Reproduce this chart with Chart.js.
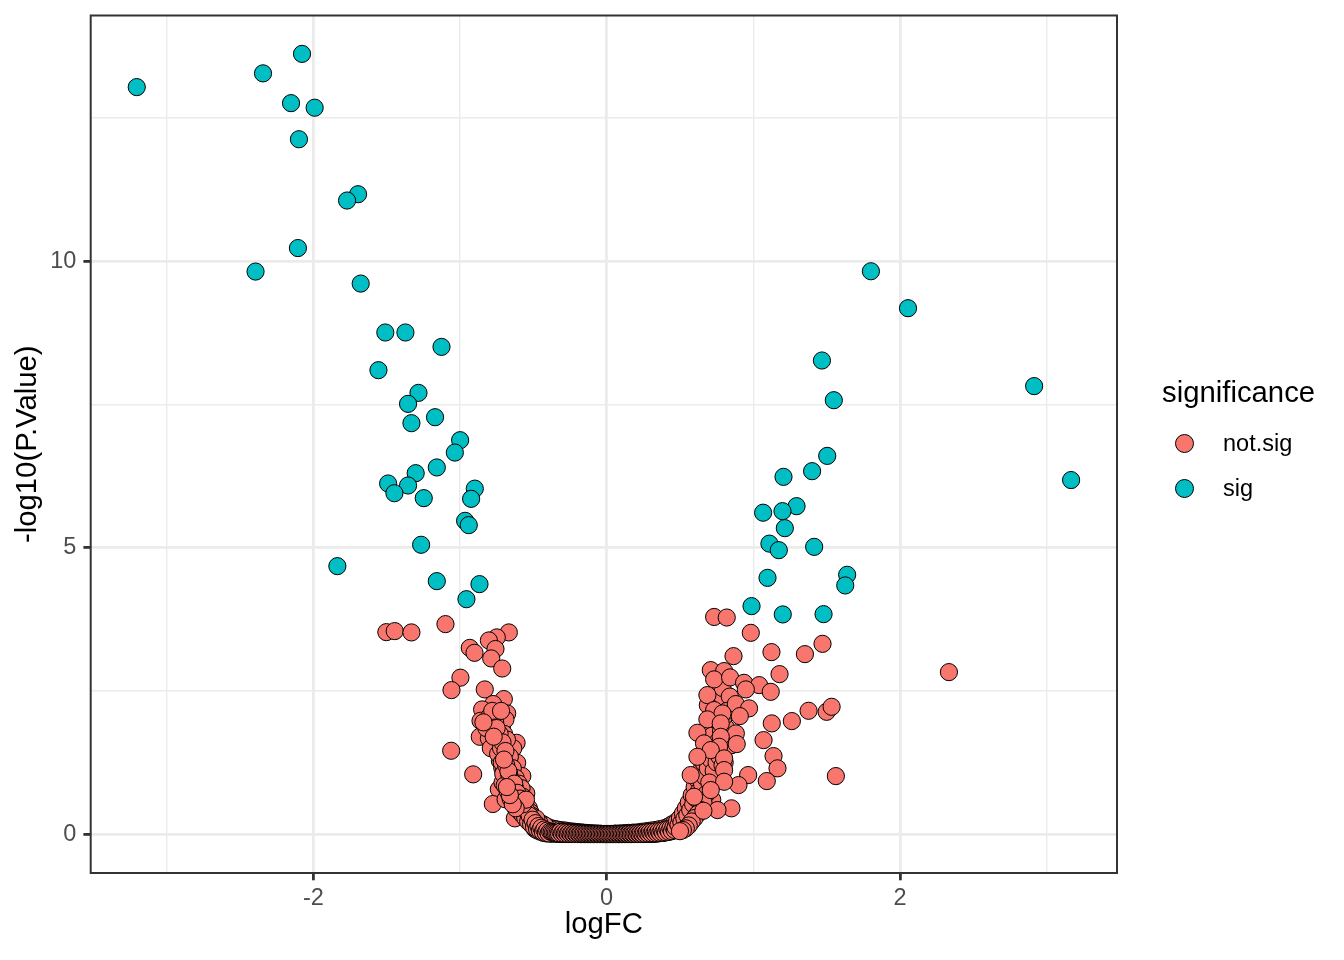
<!DOCTYPE html>
<html><head><meta charset="utf-8">
<script src="https://cdn.jsdelivr.net/npm/chart.js@4.4.0/dist/chart.umd.min.js"></script>
<style>
html,body{margin:0;padding:0;background:#fff;}
#wrap{position:relative;width:1344px;height:960px;overflow:hidden;}
canvas{position:absolute;left:0;top:0;}
.lg{position:absolute;font-family:'Liberation Sans',Arial,sans-serif;color:#000;line-height:1;white-space:nowrap;}
.key{position:absolute;width:17px;height:17px;border:1px solid #000;border-radius:50%;box-sizing:content-box;}
</style></head>
<body><div id="wrap"><canvas id="c" width="1344" height="960"></canvas>
<div class="lg" style="left:1162px;top:377px;font-size:29.3px">significance</div>
<div class="key" id="k1" style="left:1175.2px;top:433.8px;"></div>
<div class="lg" style="left:1223px;top:431.8px;font-size:23.5px">not.sig</div>
<div class="key" id="k2" style="left:1175.2px;top:478.8px;"></div>
<div class="lg" style="left:1223px;top:476.8px;font-size:23.5px">sig</div>
</div>
<script>
const seriesNames = ['not.sig', 'sig'];
const seriesColors = ['#F8766D', '#00BFC4'];
const xMajorTicks = [-2, 0, 2];
const xMinorTicks = [-3, -1, 1, 3];
const yMajorTicks = [0, 5, 10];
const yMinorTicks = [2.5, 7.5, 12.5];
const xRange = [-3.518, 3.48];
const yRange = [-0.68, 14.29];

// sig points [logFC, -log10(P.Value)]
const sigPoints = [
[-3.204,13.04],[-2.077,13.62],[-2.343,13.28],[-2.152,12.76],[-1.991,12.68],[-2.098,12.13],
[-1.695,11.17],[-1.770,11.06],[-2.105,10.23],[-2.394,9.82],[-1.677,9.61],
[-1.509,8.756],[-1.372,8.756],[-1.126,8.505],[-1.556,8.098],[-1.283,7.702],[-1.354,7.51],
[-1.170,7.277],[-1.331,7.173],[-0.999,6.876],[-1.035,6.66],[-1.158,6.40],[-1.302,6.30],
[-1.490,6.12],[-1.354,6.085],[-1.447,5.95],[-1.247,5.864],[-0.899,6.03],[-0.924,5.852],
[-0.965,5.468],[-0.940,5.393],[-1.265,5.05],[-1.836,4.677],[-1.158,4.415],[-0.867,4.363],[-0.956,4.10],
[1.468,8.267],[1.549,7.574],[1.504,6.602],[1.401,6.335],[1.206,6.236],[1.295,5.724],
[1.067,5.61],[1.199,5.637],[1.215,5.34],[1.110,5.07],[1.174,4.956],[1.415,5.014],
[1.097,4.473],[1.640,4.526],[1.627,4.34],[0.988,3.979],[1.201,3.834],[1.479,3.839],
[1.802,9.825],[2.055,9.18],[2.915,7.82],[3.167,6.18]
];

// not.sig points [logFC, -log10(P.Value)]
const notSigPoints = [
[-1.502,3.525],[-1.445,3.543],[-1.331,3.52],[-1.099,3.665],[-0.667,3.52],[-0.749,3.433],[-0.803,3.38],
[-0.933,3.25],[-0.901,3.164],[-0.758,3.23],[-0.787,3.066],[-0.712,2.89],[-0.997,2.73],[-1.058,2.513],
[-0.831,2.525],[-0.701,2.356],[-0.774,2.27],[-0.849,2.176],[-0.678,2.106],[-0.728,2.047],[-0.860,1.977],
[-0.712,1.902],[-0.746,1.845],[-0.865,1.698],[-0.803,1.67],[-0.614,1.593],[-0.742,1.571],[-0.705,1.454],
[-1.060,1.454],[-0.637,1.496],[-0.728,1.279],[-0.610,1.244],[-0.910,1.042],[-0.712,1.157],[-0.667,1.012],
[-0.575,1.012],[-0.735,0.78],[-0.644,0.768],[-0.548,0.71],[-0.776,0.524],[-0.626,0.274],[-0.689,0.605],[-0.564,0.536],
[-0.80,2.05],[-0.69,2.0],[-0.76,1.95],[-0.82,1.85],[-0.70,1.75],[-0.79,1.50],[-0.68,1.65],[-0.66,1.35],
[-0.74,1.40],[-0.70,1.10],[-0.64,1.15],[-0.68,0.95],[-0.62,0.98],[-0.60,0.88],[-0.66,0.85],[-0.71,0.90],
[-0.63,0.68],[-0.58,0.80],[-0.61,0.60],[-0.57,0.65],[-0.60,0.50],[-0.56,0.58],[-0.58,0.45],[-0.55,0.50],
[-0.56,0.40],[-0.53,0.45],[-0.54,0.35],[-0.52,0.38],[-0.53,0.28],[-0.51,0.32],[-0.50,0.25],[-0.52,0.20],
[-0.49,0.22],[-0.50,0.15],[-0.48,0.18],[-0.47,0.13],[-0.49,0.09],[-0.46,0.10],[-0.47,0.06],[-0.45,0.08],
[-0.45,0.04],[-0.44,0.06],[-0.43,0.05],[-0.43,0.02],[-0.42,0.04],[-0.41,0.03],[-0.41,0.01],[-0.40,0.03],
[-0.39,0.02],[-0.38,0.02],[-0.38,0.005],[-0.37,0.015],[-0.36,0.01],[-0.35,0.01],[-0.34,0.005],[-0.33,0.008],
[-0.32,0.005],[-0.31,0.004],[-0.30,0.003],[-0.29,0.004],[-0.28,0.003],[-0.27,0.002],[-0.26,0.002],[-0.25,0.002],
[-0.24,0.001],[-0.23,0.001],[-0.22,0.001],[-0.21,0.001],[-0.20,0.001],[-0.19,0.001],[-0.18,0],[-0.17,0],
[-0.16,0],[-0.15,0],[-0.14,0],[-0.13,0],[-0.12,0],[-0.11,0],[-0.10,0],[-0.09,0],[-0.08,0],[-0.07,0],
[-0.06,0],[-0.05,0],[-0.04,0],[-0.03,0],[-0.02,0],[-0.01,0],[0.0,0],
[-0.40,0.12],[-0.38,0.10],[-0.36,0.09],[-0.34,0.08],[-0.32,0.07],[-0.30,0.065],[-0.28,0.06],[-0.26,0.05],
[-0.24,0.045],[-0.22,0.04],[-0.20,0.035],[-0.18,0.03],[-0.16,0.025],[-0.14,0.02],[-0.12,0.015],[-0.10,0.012],
[-0.08,0.01],[-0.06,0.008],[-0.04,0.005],[-0.44,0.18],[-0.42,0.15],[-0.46,0.20],[-0.48,0.27],
[-0.715,1.25],[-0.705,1.05],[-0.695,0.85],[-0.685,1.20],[-0.675,0.75],[-0.665,1.05],[-0.655,0.62],[-0.645,0.92],
[-0.635,0.55],[-0.625,0.80],[-0.615,0.48],[-0.605,0.68],[-0.595,0.40],[-0.585,0.58],[-0.575,0.34],[-0.565,0.48],
[-0.555,0.28],[-0.545,0.40],[-0.535,0.22],[-0.525,0.32],[-0.515,0.17],[-0.505,0.25],[-0.495,0.12],[-0.485,0.19],
[-0.475,0.09],[-0.465,0.14],[-0.455,0.06],[-0.445,0.11],[-0.435,0.035],[-0.425,0.08],[-0.415,0.02],[-0.405,0.06],
[-0.395,0.012],[-0.385,0.045],[-0.375,0.035],[-0.365,0.03],[-0.355,0.025],[-0.345,0.02],[-0.335,0.015],[-0.325,0.012],
[-0.315,0.04],[-0.305,0.01],[-0.295,0.035],[-0.285,0.008],[-0.275,0.03],[-0.265,0.006],[-0.255,0.025],[-0.245,0.005],
[-0.235,0.02],[-0.225,0.004],[-0.215,0.018],[-0.205,0.003],[-0.195,0.015],[-0.185,0.002],[-0.175,0.012],[-0.165,0.002],
[-0.155,0.01],[-0.145,0.001],[-0.135,0.008],[-0.125,0.001],[-0.115,0.006],[-0.105,0.001],[-0.095,0.005],[-0.085,0],
[-0.075,0.004],[-0.065,0],[-0.055,0.003],[-0.045,0],[-0.035,0.002],[-0.025,0],[-0.015,0.001],[-0.005,0],
[-0.72,1.50],[-0.73,1.75],[-0.75,1.85],[-0.71,1.60],[-0.69,1.45],[-0.67,1.10],[-0.65,0.78],[-0.63,0.88],
[-0.61,0.72],[-0.59,0.62],[-0.57,0.52],[-0.55,0.60],[-0.62,0.45],[-0.64,0.52],[-0.66,0.68],[-0.68,0.82],
[-0.70,1.30],[-0.77,1.70],[-0.78,2.15],[-0.72,2.15],[-0.84,1.95],
[0.01,0],[0.02,0],[0.03,0],[0.04,0],[0.05,0],[0.06,0],[0.07,0],[0.08,0],[0.09,0],[0.10,0],[0.11,0],
[0.12,0],[0.13,0],[0.14,0],[0.15,0],[0.16,0],[0.17,0],[0.18,0.001],[0.19,0.001],[0.20,0.001],[0.21,0.001],
[0.22,0.001],[0.23,0.002],[0.24,0.002],[0.25,0.002],[0.26,0.003],[0.27,0.003],[0.28,0.004],[0.29,0.004],
[0.30,0.005],[0.31,0.005],[0.32,0.006],[0.33,0.008],[0.34,0.01],[0.35,0.012],[0.36,0.015],[0.37,0.018],
[0.38,0.02],[0.39,0.025],[0.40,0.03],[0.41,0.035],[0.42,0.04],[0.43,0.05],[0.44,0.06],[0.45,0.07],[0.46,0.08],
[0.06,0.008],[0.09,0.01],[0.12,0.015],[0.15,0.02],[0.18,0.025],[0.21,0.03],[0.24,0.04],[0.27,0.05],
[0.30,0.06],[0.33,0.07],[0.36,0.085],[0.39,0.10],[0.42,0.13],[0.44,0.16],[0.46,0.19],
[0.005,0],[0.015,0.001],[0.025,0],[0.035,0.002],[0.045,0],[0.055,0.003],[0.065,0],[0.075,0.004],
[0.085,0],[0.095,0.005],[0.105,0.001],[0.115,0.006],[0.125,0.001],[0.135,0.008],[0.145,0.001],[0.155,0.01],
[0.165,0.002],[0.175,0.012],[0.185,0.002],[0.195,0.015],[0.205,0.003],[0.215,0.018],[0.225,0.004],[0.235,0.02],
[0.245,0.005],[0.255,0.025],[0.265,0.006],[0.275,0.03],[0.285,0.008],[0.295,0.035],[0.305,0.01],[0.315,0.04],
[0.325,0.012],[0.335,0.045],[0.345,0.015],[0.355,0.05],[0.365,0.02],[0.375,0.06],[0.385,0.025],[0.395,0.07],
[0.405,0.03],[0.415,0.085],[0.425,0.04],[0.435,0.10],[0.445,0.05],[0.455,0.12],[0.465,0.07],[0.475,0.16],
[0.485,0.10],[0.495,0.20],[0.505,0.14],[0.515,0.26],[0.525,0.18],[0.535,0.32],[0.545,0.24],[0.555,0.40],
[0.565,0.30],[0.575,0.50],[0.585,0.38],[0.595,0.60],[0.605,0.46],[0.615,0.72],[0.625,0.55],[0.635,0.85],
[0.645,0.65],[0.655,0.98],[0.665,0.75],[0.675,1.12],[0.685,0.88],[0.695,1.28],[0.705,1.00],[0.715,1.45],
[0.725,1.15],[0.735,1.60],[0.745,1.30],[0.755,0.95],[0.765,1.45],[0.775,1.05],[0.785,1.55],[0.795,1.70],
[0.805,1.25],[0.815,1.85],[0.70,1.85],[0.72,2.05],[0.76,2.40],[0.79,2.55],[0.69,2.25],[0.80,2.05],[0.84,2.40],
[0.47,0.12],[0.48,0.22],[0.49,0.16],[0.50,0.28],[0.51,0.20],[0.52,0.36],[0.53,0.27],[0.54,0.45],
[0.55,0.33],[0.56,0.55],[0.57,0.42],[0.58,0.68],[0.59,0.52],[0.60,0.82],[0.61,0.62],[0.62,0.95],
[0.63,0.75],[0.64,1.10],[0.65,0.88],[0.66,1.25],[0.67,1.00],[0.68,1.40],[0.69,1.15],[0.70,1.58],
[0.71,1.30],[0.72,1.72],[0.73,1.10],[0.74,1.45],[0.75,1.25],[0.77,1.35],[0.79,1.20],[0.76,1.62],
[0.78,1.80],[0.81,1.50],[0.83,1.65],[0.85,1.55],[0.74,2.00],[0.82,2.15],[0.70,0.90],[0.72,0.60],
[0.68,0.70],[0.66,0.55],[0.64,0.42],[0.62,0.35],[0.60,0.28],[0.58,0.22],[0.56,0.15],[0.54,0.10],
[0.52,0.07],[0.50,0.05],
[0.733,3.79],[0.819,3.78],[0.983,3.513],[0.865,3.106],[1.124,3.176],[1.352,3.141],[1.472,3.321],
[1.179,2.792],[0.710,2.862],[0.801,2.845],[0.733,2.70],[0.842,2.735],[0.937,2.64],[1.040,2.60],
[1.119,2.483],[0.949,2.525],[0.687,2.426],[0.881,2.269],[0.971,2.194],[0.733,2.164],[0.790,2.106],
[0.908,2.059],[0.687,2.002],[0.778,1.932],[1.377,2.152],[1.500,2.134],[1.534,2.222],[1.263,1.972],
[1.126,1.932],[0.619,1.768],[0.881,1.757],[0.778,1.698],[1.070,1.64],[0.664,1.583],[0.887,1.571],
[0.767,1.524],[0.710,1.466],[1.138,1.361],[0.619,1.349],[0.801,1.321],[1.165,1.147],[0.801,1.117],
[0.965,1.03],[0.573,1.03],[1.563,1.012],[1.092,0.925],[0.899,0.855],[0.801,0.913],[0.710,0.768],
[0.851,0.449],[0.756,0.419],[0.660,0.407],[0.596,0.651],[2.334,2.827]
];

document.getElementById('k1').style.background = seriesColors[0];
document.getElementById('k2').style.background = seriesColors[1];

const FONT = "'Liberation Sans', Arial, sans-serif";
Chart.defaults.font.family = FONT;
const isIn = (arr, v) => arr.some(t => Math.abs(t - v) < 1e-9);
const toXY = pts => pts.map(p => ({x: p[0], y: p[1]}));

const panelBorder = {
  id: 'panelBorder',
  afterDatasetsDraw(chart) {
    const {ctx, chartArea: a} = chart;
    ctx.save();
    ctx.strokeStyle = '#333333';
    ctx.lineWidth = 2;
    ctx.strokeRect(a.left, a.top, a.right - a.left, a.bottom - a.top);
    ctx.restore();
  }
};

function gridOpts(major) {
  return {
    color: '#EBEBEB',
    lineWidth: c => (c.tick && isIn(major, c.tick.value)) ? 2.8 : 1.4,
    tickColor: c => (c.tick && isIn(major, c.tick.value)) ? '#333333' : 'rgba(0,0,0,0)',
    tickWidth: 2.8,
    tickLength: 7.3,
    drawTicks: true,
    drawOnChartArea: true
  };
}

new Chart(document.getElementById('c'), {
  type: 'scatter',
  data: {
    datasets: [
      { label: seriesNames[0], data: toXY(notSigPoints), backgroundColor: seriesColors[0],
        borderColor: '#000', borderWidth: 1, pointRadius: 8.6, order: 1 },
      { label: seriesNames[1], data: toXY(sigPoints), backgroundColor: seriesColors[1],
        borderColor: '#000', borderWidth: 1, pointRadius: 8.6, order: 0 }
    ]
  },
  options: {
    responsive: false,
    animation: false,
    events: [],
    layout: { padding: { left: 0, right: 227, top: 15.5, bottom: 0 } },
    plugins: { legend: { display: false }, tooltip: { enabled: false } },
    scales: {
      x: {
        type: 'linear', min: xRange[0], max: xRange[1],
        afterBuildTicks: s => { s.ticks = xMajorTicks.concat(xMinorTicks).sort((a, b) => a - b).map(v => ({value: v})); },
        afterFit: s => { s.height = 87; s.paddingLeft = 0; s.paddingRight = 0; },
        ticks: { autoSkip: false, maxRotation: 0, padding: 4, color: '#4D4D4D', font: {size: 23.5},
          callback: v => isIn(xMajorTicks, v) ? String(v) : '' },
        grid: gridOpts(xMajorTicks),
        border: { display: false },
        title: { display: true, text: 'logFC', color: '#000', font: {size: 29.3}, padding: {top: 0, bottom: 17.6} }
      },
      y: {
        type: 'linear', min: yRange[0], max: yRange[1],
        afterBuildTicks: s => { s.ticks = yMajorTicks.concat(yMinorTicks).sort((a, b) => a - b).map(v => ({value: v})); },
        afterFit: s => { s.width = 90.7; s.paddingTop = 0; s.paddingBottom = 0; },
        ticks: { autoSkip: false, padding: 7, color: '#4D4D4D', font: {size: 23.5},
          callback: v => isIn(yMajorTicks, v) ? String(v) : '' },
        grid: gridOpts(yMajorTicks),
        border: { display: false },
        title: { display: true, text: '-log10(P.Value)', color: '#000', font: {size: 29.3}, padding: {top: 10, bottom: 0} }
      }
    }
  },
  plugins: [panelBorder]
});
</script>
</body></html>
